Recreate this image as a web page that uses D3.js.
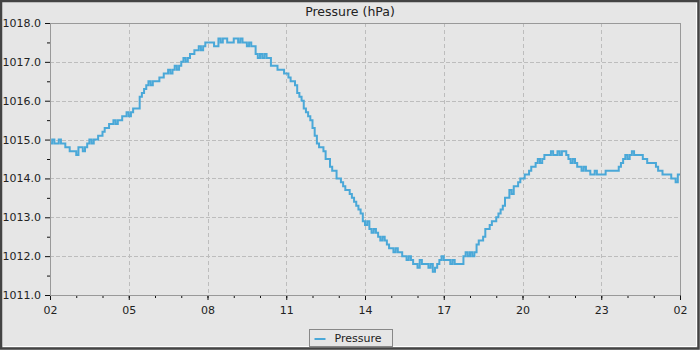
<!DOCTYPE html>
<html>
<head>
<meta charset="utf-8">
<script src="https://cdn.jsdelivr.net/npm/d3@7"></script>
<style>
  html, body { margin: 0; padding: 0; background: #e6e6e6; }
  svg { display: block; }
  text { font-family: "DejaVu Sans", sans-serif; fill: #222; }
</style>
</head>
<body>
<div id="chart"></div>
<script>
// 24 hours of barometer readings, one sample every 5 minutes from 02:00
const startTime = new Date(2024, 0, 1, 2, 0);
const sampleMinutes = 5;
const pressure = [
  1014.9, 1015.0, 1014.9, 1014.9, 1015.0, 1014.9, 1014.9, 1014.8, 1014.8, 1014.7, 1014.7, 1014.7, // 02h
  1014.6, 1014.8, 1014.8, 1014.7, 1014.8, 1014.9, 1015.0, 1014.9, 1015.0, 1015.0, 1015.1, 1015.1, // 03h
  1015.2, 1015.3, 1015.3, 1015.4, 1015.4, 1015.5, 1015.4, 1015.5, 1015.5, 1015.6, 1015.6, 1015.7, // 04h
  1015.6, 1015.7, 1015.8, 1015.8, 1015.8, 1016.1, 1016.2, 1016.3, 1016.4, 1016.5, 1016.4, 1016.5, // 05h
  1016.5, 1016.5, 1016.6, 1016.6, 1016.7, 1016.7, 1016.8, 1016.7, 1016.8, 1016.9, 1016.8, 1016.9, // 06h
  1017.0, 1017.1, 1017.0, 1017.1, 1017.2, 1017.2, 1017.3, 1017.3, 1017.4, 1017.3, 1017.4, 1017.5, // 07h
  1017.5, 1017.5, 1017.5, 1017.4, 1017.4, 1017.6, 1017.5, 1017.6, 1017.6, 1017.5, 1017.5, 1017.5, // 08h
  1017.6, 1017.6, 1017.5, 1017.6, 1017.5, 1017.5, 1017.4, 1017.5, 1017.4, 1017.4, 1017.2, 1017.1, // 09h
  1017.2, 1017.1, 1017.2, 1017.1, 1017.1, 1016.9, 1016.9, 1016.9, 1016.8, 1016.8, 1016.8, 1016.7, // 10h
  1016.7, 1016.6, 1016.5, 1016.5, 1016.4, 1016.2, 1016.1, 1016.0, 1015.8, 1015.7, 1015.6, 1015.5, // 11h
  1015.3, 1015.1, 1014.9, 1014.8, 1014.8, 1014.7, 1014.5, 1014.5, 1014.3, 1014.2, 1014.2, 1014.0, // 12h
  1014.0, 1013.9, 1013.8, 1013.7, 1013.7, 1013.6, 1013.5, 1013.4, 1013.3, 1013.2, 1013.1, 1012.9, // 13h
  1012.8, 1012.9, 1012.7, 1012.6, 1012.7, 1012.6, 1012.5, 1012.4, 1012.5, 1012.4, 1012.3, 1012.2, // 14h
  1012.2, 1012.1, 1012.2, 1012.1, 1012.1, 1012.0, 1012.0, 1011.9, 1012.0, 1011.9, 1011.8, 1011.8, // 15h
  1011.7, 1011.9, 1011.8, 1011.8, 1011.8, 1011.7, 1011.8, 1011.6, 1011.7, 1011.8, 1011.9, 1012.0, // 16h
  1011.9, 1011.9, 1011.9, 1011.8, 1011.9, 1011.8, 1011.8, 1011.8, 1011.8, 1012.0, 1012.1, 1012.0, // 17h
  1012.1, 1012.0, 1012.1, 1012.3, 1012.4, 1012.4, 1012.5, 1012.7, 1012.7, 1012.8, 1012.9, 1012.9, // 18h
  1013.0, 1013.1, 1013.2, 1013.3, 1013.5, 1013.5, 1013.7, 1013.6, 1013.8, 1013.8, 1013.9, 1014.0, // 19h
  1014.0, 1014.1, 1014.1, 1014.2, 1014.3, 1014.3, 1014.4, 1014.5, 1014.4, 1014.5, 1014.6, 1014.6, // 20h
  1014.6, 1014.7, 1014.6, 1014.6, 1014.7, 1014.6, 1014.7, 1014.7, 1014.6, 1014.5, 1014.4, 1014.5, // 21h
  1014.4, 1014.3, 1014.3, 1014.2, 1014.3, 1014.2, 1014.2, 1014.1, 1014.1, 1014.2, 1014.1, 1014.1, // 22h
  1014.1, 1014.1, 1014.2, 1014.2, 1014.2, 1014.2, 1014.2, 1014.2, 1014.3, 1014.4, 1014.5, 1014.6, // 23h
  1014.5, 1014.6, 1014.7, 1014.6, 1014.6, 1014.6, 1014.6, 1014.5, 1014.5, 1014.4, 1014.4, 1014.4, // 00h
  1014.4, 1014.3, 1014.2, 1014.2, 1014.1, 1014.1, 1014.1, 1014.1, 1014.0, 1014.0, 1013.9, 1014.1, // 01h
  1014.1                                                                                        // 02h
];
const yTicks = [1011, 1012, 1013, 1014, 1015, 1016, 1017, 1018];
const yMinorTicks = [1011.5, 1012.5, 1013.5, 1014.5, 1015.5, 1016.5, 1017.5];
const xMajorHours = [0, 3, 6, 9, 12, 15, 18, 21, 24];   // hours after start, labelled
const title = "Pressure (hPa)";
const seriesName = "Pressure";

const W = 700, H = 350;
const margin = { left: 50, right: 20, top: 23, bottom: 55 };
const plotW = W - margin.left - margin.right;
const plotH = H - margin.top - margin.bottom;
const lineColor = "#4aa8d8";

const data = pressure.map((p, i) => ({
  t: new Date(startTime.getTime() + i * sampleMinutes * 60000),
  p
}));
const endTime = data[data.length - 1].t;

const svg = d3.select("#chart").append("svg")
  .attr("width", W).attr("height", H);

// panel background and bevelled frame
svg.append("rect").attr("x", 0).attr("y", 0).attr("width", W).attr("height", H)
  .attr("fill", "#e6e6e6");
svg.append("path")
  .attr("d", `M${W - 3.5},3 V${H - 3.5} H3`)
  .attr("fill", "none").attr("stroke", "#ffffff").attr("stroke-width", 1);
svg.append("rect").attr("x", 1).attr("y", 1).attr("width", W - 2.5).attr("height", H - 2.5)
  .attr("fill", "none").attr("stroke", "#444444").attr("stroke-width", 2.5);

svg.append("text")
  .attr("x", W / 2).attr("y", 16)
  .attr("text-anchor", "middle")
  .style("font-size", "12.5px")
  .text(title);

const x = d3.scaleTime().domain([startTime, endTime]).range([0, plotW]);
const y = d3.scaleLinear().domain([1011, 1018]).range([plotH, 0]);

const g = svg.append("g").attr("transform", `translate(${margin.left},${margin.top})`);

const majorTimes = xMajorHours.map(h => d3.timeHour.offset(startTime, h));
const minorTimes = d3.range(0, 25).map(h => d3.timeHour.offset(startTime, h));

// grid
g.append("g").selectAll("line").data(majorTimes.slice(1, -1)).join("line")
  .attr("x1", d => Math.round(x(d)) + 0.5).attr("x2", d => Math.round(x(d)) + 0.5)
  .attr("y1", 0).attr("y2", plotH)
  .attr("stroke", "#bdbdbd").attr("stroke-dasharray", "4,3");
g.append("g").selectAll("line").data(yTicks.slice(1, -1)).join("line")
  .attr("x1", 0).attr("x2", plotW)
  .attr("y1", d => Math.round(y(d)) + 0.5).attr("y2", d => Math.round(y(d)) + 0.5)
  .attr("stroke", "#bdbdbd").attr("stroke-dasharray", "4,2");

// plot frame
g.append("rect").attr("x", 0.5).attr("y", 0.5).attr("width", plotW).attr("height", plotH)
  .attr("fill", "none").attr("stroke", "#999999");

// series
const line = d3.line()
  .x(d => x(d.t))
  .y(d => y(d.p))
  .curve(d3.curveStepAfter);
g.append("path").datum(data)
  .attr("d", line)
  .attr("fill", "none")
  .attr("stroke", lineColor)
  .attr("stroke-width", 2);

// x axis
const xAxis = g.append("g").attr("transform", `translate(0,${plotH})`);
xAxis.call(d3.axisBottom(x).tickValues(minorTimes).tickSize(3).tickFormat(""))
  .call(a => a.select(".domain").remove())
  .call(a => a.selectAll("line").attr("stroke", "#111"));
const xMajor = g.append("g").attr("transform", `translate(0,${plotH})`);
xMajor.call(d3.axisBottom(x).tickValues(majorTimes).tickSize(5).tickPadding(6)
    .tickFormat(d3.timeFormat("%H")))
  .call(a => a.select(".domain").remove())
  .call(a => a.selectAll("line").attr("stroke", "#111"))
  .call(a => a.selectAll("text").style("font-size", "11px")
    .style("font-family", "DejaVu Sans, sans-serif").attr("fill", "#222"));
g.append("line").attr("x1", 0).attr("x2", plotW + 0.5)
  .attr("y1", plotH + 0.5).attr("y2", plotH + 0.5).attr("stroke", "#999999");

// y axis
const yAxis = g.append("g");
yAxis.call(d3.axisLeft(y).tickValues(yMinorTicks).tickSize(3).tickFormat(""))
  .call(a => a.select(".domain").remove())
  .call(a => a.selectAll("line").attr("stroke", "#111"));
const yMajor = g.append("g");
yMajor.call(d3.axisLeft(y).tickValues(yTicks).tickSize(5).tickPadding(4)
    .tickFormat(d3.format(".1f")))
  .call(a => a.select(".domain").remove())
  .call(a => a.selectAll("line").attr("stroke", "#111"))
  .call(a => a.selectAll("text").style("font-size", "11px")
    .style("font-family", "DejaVu Sans, sans-serif").attr("fill", "#222"));
g.append("line").attr("x1", 0.5).attr("x2", 0.5)
  .attr("y1", 0).attr("y2", plotH + 0.5).attr("stroke", "#999999");

// legend
const lg = svg.append("g").attr("transform", "translate(309.5,329.5)");
lg.append("rect").attr("width", 83).attr("height", 17)
  .attr("fill", "#e6e6e6").attr("stroke", "#888888");
lg.append("line").attr("x1", 5).attr("x2", 16).attr("y1", 9.5).attr("y2", 9.5)
  .attr("stroke", lineColor).attr("stroke-width", 2);
lg.append("text").attr("x", 25).attr("y", 12.5)
  .style("font-size", "11px").text(seriesName);
</script>
</body>
</html>
